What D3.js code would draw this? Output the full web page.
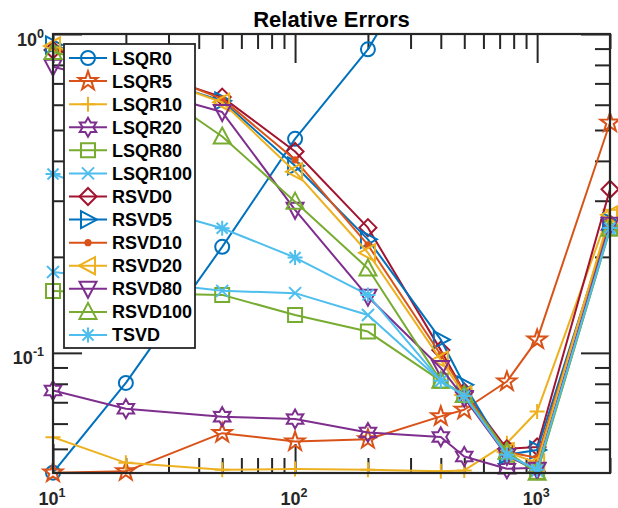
<!DOCTYPE html>
<html><head><meta charset="utf-8">
<script src="https://cdn.jsdelivr.net/npm/d3@7"></script>
<style>body{margin:0;background:#fff}</style>
</head><body><svg id="c" width="618" height="508"></svg>
<script>
// ---- data ----
const xValues = [10, 20, 50, 100, 200, 400, 500, 750, 1000, 2000];
const seriesNames = ["LSQR0","LSQR5","LSQR10","LSQR20","LSQR80","LSQR100","RSVD0","RSVD5","RSVD10","RSVD20","RSVD80","RSVD100","TSVD"];
const lsqr0   = [0.0421, 0.0805, 0.215, 0.469, 0.895, 2.15, null, null, null, null];
const lsqr5   = [0.0421, 0.0425, 0.0560, 0.0527, 0.0536, 0.0632, 0.0663, 0.0813, 0.110, 0.527];
const lsqr10  = [0.0544, 0.0452, 0.0430, 0.0432, 0.0430, 0.0425, 0.0428, 0.0521, 0.0655, 0.281];
const lsqr20  = [0.0762, 0.0668, 0.0631, 0.0620, 0.0563, 0.0545, 0.0473, 0.0433, 0.0436, 0.252];
const lsqr80  = [0.1564, 0.1542, 0.1520, 0.1315, 0.1166, 0.0817, 0.0738, 0.0479, 0.0424, 0.2465];
const lsqr100 = [0.1794, 0.1693, 0.1565, 0.1539, 0.1315, 0.0817, 0.0738, 0.0479, 0.0427, 0.243];
const rsvd0   = [0.891, 0.799, 0.634, 0.428, 0.247, 0.102, 0.0754, 0.0500, 0.0507, 0.326];
const rsvd5   = [0.924, 0.771, 0.617, 0.386, 0.227, 0.110, 0.0794, 0.0479, 0.0496, 0.2575];
const rsvd10  = [0.904, 0.817, 0.626, 0.403, 0.218, 0.0986, 0.0754, 0.0489, 0.0469, 0.263];
const rsvd20  = [0.917, 0.782, 0.611, 0.370, 0.206, 0.0951, 0.0738, 0.0489, 0.0452, 0.271];
const rsvd80  = [0.790, 0.692, 0.569, 0.281, 0.150, 0.0897, 0.0722, 0.0475, 0.0430, 0.252];
const rsvd100 = [0.878, 0.771, 0.477, 0.298, 0.184, 0.0817, 0.0738, 0.0490, 0.0421, 0.245];
const tsvd    = [0.364, 0.2995, 0.246, 0.199, 0.152, 0.0817, 0.0733, 0.0479, 0.0430, 0.2465];
const seriesValues = [lsqr0,lsqr5,lsqr10,lsqr20,lsqr80,lsqr100,rsvd0,rsvd5,rsvd10,rsvd20,rsvd80,rsvd100,tsvd];
const seriesMarkers = ["o","p","+","h","s","x","d",">",".","<","v","^","*"];
const palette = ["#0072BD","#D95319","#EDB120","#7E2F8E","#77AC30","#4DBEEE","#A2142F"];
const xMajorTicks = [10, 100, 1000];
const xMinorTicks = [20,30,40,50,60,70,80,90,200,300,400,500,600,700,800,900,2000];
const yMajorTicks = [0.1, 1];
const yMinorTicks = [0.05,0.06,0.07,0.08,0.09,0.2,0.3,0.4,0.5,0.6,0.7,0.8,0.9];
const titleText = "Relative Errors";

// ---- layout ----
const W = 618, H = 508;
const m = {l:53, r:610, t:34, b:473};
const axisColor = "#262626";
const font = "'Liberation Sans', Arial, Helvetica, sans-serif";
const x = d3.scaleLog().domain([10, 2000]).range([m.l, m.r]);
const y = d3.scaleLog().domain([0.042, 1]).range([m.b, m.t]);

const svg = d3.select("#c");
svg.append("rect").attr("width", W).attr("height", H).attr("fill", "#fff");

// marker shapes
function starPath(n, R, r) {
  let p = [];
  for (let i = 0; i < 2*n; i++) {
    const a = -Math.PI/2 + i*Math.PI/n;
    const rr = i % 2 === 0 ? R : r;
    p.push([rr*Math.cos(a), rr*Math.sin(a)]);
  }
  return "M" + p.map(q => q[0].toFixed(2)+","+q[1].toFixed(2)).join("L") + "Z";
}
const markerPaths = {
  "o": "M7,0A7,7 0 1,1 -7,0A7,7 0 1,1 7,0Z",
  "p": starPath(5, 10, 3.9),
  "+": "M-7.5,0H7.5M0,-7.5V7.5",
  "h": starPath(6, 9.5, 5.4),
  "s": "M-7,-7H7V7H-7Z",
  "x": "M-6,-6L6,6M-6,6L6,-6",
  "d": "M0,-8.5L8.5,0L0,8.5L-8.5,0Z",
  ">": "M9,0L-7,-8.5L-7,8.5Z",
  "<": "M-9,0L7,-8.5L7,8.5Z",
  "v": "M0,9L8.5,-7L-8.5,-7Z",
  "^": "M0,-9L8.5,7L-8.5,7Z",
  "*": "M-7.5,0H7.5M0,-7.5V7.5M-5.5,-5.5L5.5,5.5M-5.5,5.5L5.5,-5.5",
  ".": "M2.6,0A2.6,2.6 0 1,1 -2.6,0A2.6,2.6 0 1,1 2.6,0Z"
};
function drawMarker(g, key, color, cx, cy) {
  g.append("path").attr("d", markerPaths[key])
    .attr("transform", `translate(${cx},${cy})`)
    .attr("fill", key === "." ? color : "none")
    .attr("stroke", color).attr("stroke-width", 2)
    .attr("stroke-linejoin", "miter");
}

// ---- axes (ticks inside, all four sides) ----
const axG = svg.append("g");
function addAxis(axis, tx, ty, values, len) {
  axG.append("g").attr("transform", `translate(${tx},${ty})`)
    .call(axis.tickValues(values).tickSize(-len).tickFormat(""))
    .call(g => g.select(".domain").remove())
    .call(g => g.selectAll("line").attr("stroke", axisColor).attr("stroke-width", 2));
}
addAxis(d3.axisBottom(x), 0, m.b, xMajorTicks, 29);
addAxis(d3.axisBottom(x), 0, m.b, xMinorTicks, 15);
addAxis(d3.axisTop(x), 0, m.t, xMajorTicks, 29);
addAxis(d3.axisTop(x), 0, m.t, xMinorTicks, 15);
addAxis(d3.axisLeft(y), m.l, 0, yMajorTicks, 29);
addAxis(d3.axisLeft(y), m.l, 0, yMinorTicks, 15);
addAxis(d3.axisRight(y), m.r, 0, yMajorTicks, 29);
addAxis(d3.axisRight(y), m.r, 0, yMinorTicks, 15);

// tick labels
function powLabel(g, v, px, py, anchor) {
  const e = Math.round(Math.log10(v));
  const t = g.append("text").attr("x", px).attr("y", py)
    .attr("text-anchor", anchor).attr("font-family", font)
    .attr("font-weight", "bold").attr("font-size", 18).attr("fill", axisColor);
  t.append("tspan").text("10");
  t.append("tspan").attr("font-size", 12.5).attr("dy", -8).text(String(e));
}
xMajorTicks.forEach(v => powLabel(axG, v, x(v) - 1, 505, "middle"));
yMajorTicks.forEach(v => powLabel(axG, v, 44, y(v) + 11.5, "end"));

// title
svg.append("text").attr("x", (m.l + m.r)/2).attr("y", 26.5)
  .attr("text-anchor", "middle").attr("font-family", font)
  .attr("font-weight", "bold").attr("font-size", 22).attr("fill", "#000")
  .text(titleText);

// ---- data ----
svg.append("clipPath").attr("id", "plotClip").append("rect")
  .attr("x", m.l).attr("y", m.t).attr("width", m.r - m.l).attr("height", m.b - m.t);
const dataG = svg.append("g");
const line = d3.line().defined(d => d[1] != null).x(d => x(d[0])).y(d => y(d[1]));
const [y0, y1] = y.domain();
seriesValues.forEach((vals, i) => {
  const color = palette[i % palette.length];
  const pts = xValues.map((xv, j) => [xv, vals[j]]);
  dataG.append("path").attr("d", line(pts)).attr("fill", "none")
    .attr("stroke", color).attr("stroke-width", 2).attr("clip-path", "url(#plotClip)")
    .attr("stroke-linejoin", "round");
  const mg = dataG.append("g");
  pts.filter(p => p[1] != null && p[1] >= y0 * 0.999 && p[1] <= y1)
    .forEach(p => drawMarker(mg, seriesMarkers[i], color, x(p[0]), y(p[1])));
});

// box
svg.append("rect").attr("x", m.l).attr("y", m.t).attr("width", m.r - m.l).attr("height", m.b - m.t)
  .attr("fill", "none").attr("stroke", axisColor).attr("stroke-width", 2.2);

// ---- legend ----
const lg = svg.append("g");
const lx = 64, ly = 44, lw = 131, lh = 304, rowH = 23.08, row0 = 58;
lg.append("rect").attr("x", lx).attr("y", ly).attr("width", lw).attr("height", lh)
  .attr("fill", "#fff").attr("stroke", axisColor).attr("stroke-width", 1.8);
seriesNames.forEach((name, i) => {
  const color = palette[i % palette.length];
  const cy = row0 + i * rowH;
  lg.append("line").attr("x1", 69).attr("x2", 107).attr("y1", cy).attr("y2", cy)
    .attr("stroke", color).attr("stroke-width", 2);
  drawMarker(lg, seriesMarkers[i], color, 88, cy);
  lg.append("text").attr("x", 112).attr("y", cy + 6.5)
    .attr("font-family", font).attr("font-weight", "bold").attr("font-size", 18)
    .attr("fill", "#000").text(name);
});
</script></body></html>
